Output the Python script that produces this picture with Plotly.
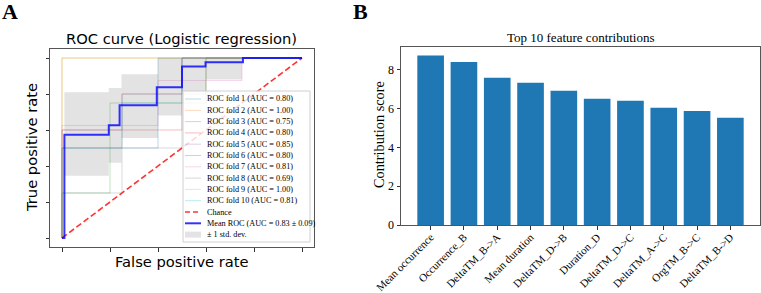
import plotly.graph_objects as go

W, H = 761, 293

# ---------------- Data: ROC panel ----------------
fold_labels = ["ROC fold %d (AUC = %s)" % (i + 1, a) for i, a in enumerate(
    ["0.80", "1.00", "0.75", "0.80", "0.85", "0.80", "0.81", "0.69", "1.00", "0.81"])]
fold_fpr = [
    [0, 0, 0.4, 0.4, 1],
    [0, 0, 1],
    [0, 0, 0.2, 0.2, 0.6, 0.6, 1],
    [0, 0, 0.5, 0.5, 1],
    [0, 0, 0.25, 0.25, 0.5, 0.5, 1],
    [0, 0, 0.25, 0.25, 0.6, 0.6, 1],
    [0, 0, 0.4, 0.4, 0.75, 0.75, 1],
    [0, 0, 0.25, 0.25, 0.5, 0.5, 1],
    [0, 0, 1],
    [0, 0, 0.25, 0.25, 0.5, 0.5, 1],
]
fold_tpr = [
    [0, 0.5, 0.5, 1, 1],
    [0, 1, 1],
    [0, 0.25, 0.25, 0.75, 0.75, 1, 1],
    [0, 0.6, 0.6, 1, 1],
    [0, 0.6, 0.6, 0.8, 0.8, 1, 1],
    [0, 0.5, 0.5, 0.8, 0.8, 1, 1],
    [0, 0.625, 0.625, 0.875, 0.875, 1, 1],
    [0, 0.25, 0.25, 0.5, 0.5, 1, 1],
    [0, 1, 1],
    [0, 0.5, 0.5, 0.75, 0.75, 1, 1],
]
fold_colors = ["31,119,180", "255,127,14", "44,160,44", "214,39,40", "148,103,189",
               "140,86,75", "227,119,194", "127,127,127", "188,189,34", "23,190,207"]

mean_fpr = [0, 0.01, 0.195, 0.24, 0.395, 0.50, 0.598, 0.754, 1.0]
mean_tpr = [0, 0.574, 0.626, 0.737, 0.837, 0.953, 0.976, 1.0, 1.0]

band_fpr = [0.01, 0.195, 0.248, 0.40, 0.50, 0.60, 0.75, 1.0]
band_upper = [0.81, 0.833, 0.91, 1.0, 1.0, 1.0, 1.0, 1.0]
band_lower = [0.346, 0.418, 0.556, 0.68, 0.81, 0.88, 1.0, 1.0]

chance_x = [0, 1]
chance_y = [0, 1]
roc_ticks = [0, 0.2, 0.4, 0.6, 0.8, 1.0]

# ---------------- Data: bar panel ----------------
features = ["Mean occurrence", "Occurrence_B", "DeltaTM_B->A", "Mean duration",
            "DeltaTM_D->B", "Duration_D", "DeltaTM_D->C", "DeltaTM_A->C",
            "OrgTM_B->C", "DeltaTM_B->D"]
scores = [8.74, 8.41, 7.59, 7.33, 6.92, 6.51, 6.41, 6.05, 5.88, 5.53]
score_ticks = [0, 2, 4, 6, 8]


def px(x):
    return x / W


def py(y):
    return 1 - y / H


fig = go.Figure()

# fold curves
for i in range(10):
    fig.add_trace(go.Scatter(x=fold_fpr[i], y=fold_tpr[i], mode="lines",
                             line=dict(color="rgba(%s,0.3)" % fold_colors[i], width=1),
                             xaxis="x", yaxis="y", showlegend=False, hoverinfo="skip"))

# std band
fig.add_trace(go.Scatter(x=band_fpr, y=band_lower, mode="lines", line=dict(width=0, shape="hv"),
                         xaxis="x", yaxis="y", showlegend=False, hoverinfo="skip"))
fig.add_trace(go.Scatter(x=band_fpr, y=band_upper, mode="lines", line=dict(width=0, shape="hv"),
                         fill="tonexty", fillcolor="rgba(128,128,128,0.22)",
                         xaxis="x", yaxis="y", showlegend=False, hoverinfo="skip"))

# chance
fig.add_trace(go.Scatter(x=chance_x, y=chance_y, mode="lines",
                         line=dict(color="rgba(255,0,0,0.8)", width=1.6, dash="6px,3px"),
                         xaxis="x", yaxis="y", showlegend=False, hoverinfo="skip"))
# mean
fig.add_trace(go.Scatter(x=mean_fpr, y=mean_tpr, mode="lines",
                         line=dict(color="rgba(0,0,255,0.8)", width=2, shape="hv"),
                         xaxis="x", yaxis="y", showlegend=False, hoverinfo="skip"))

# bars
fig.add_trace(go.Bar(x=list(range(len(features))), y=scores, width=0.8,
                     marker=dict(color="#1f77b4", line=dict(width=0)),
                     xaxis="x2", yaxis="y2", showlegend=False))

frame = "#555555"
fig.update_layout(
    width=W, height=H, margin=dict(l=0, r=0, t=0, b=0),
    paper_bgcolor="white", plot_bgcolor="white",
    xaxis=dict(domain=[px(50), px(314)], range=[-0.05, 1.05], showgrid=False, zeroline=False,
               tickvals=roc_ticks, showticklabels=False, ticks="outside", ticklen=3.5,
               tickcolor="#333", showline=True, linecolor=frame, linewidth=1, mirror=True,
               anchor="y", automargin=False),
    yaxis=dict(domain=[py(247), py(49)], range=[-0.05, 1.05], showgrid=False, zeroline=False,
               tickvals=roc_ticks, showticklabels=False, ticks="outside", ticklen=3.5,
               tickcolor="#333", showline=True, linecolor=frame, linewidth=1, mirror=True,
               anchor="x", automargin=False),
    xaxis2=dict(domain=[px(401), px(760)], range=[-0.89, 9.89], showgrid=False, zeroline=False,
                tickvals=list(range(len(features))), ticktext=features, tickangle=-45,
                tickfont=dict(family="Liberation Serif", size=11, color="black"),
                ticks="outside", ticklen=3.5, tickcolor="#333", ticklabelstandoff=-3,
                showline=True, linecolor=frame, linewidth=1, mirror=True,
                anchor="y2", automargin=False),
    yaxis2=dict(domain=[py(225), py(47)], range=[0, max(scores) * 1.05], showgrid=False,
                zeroline=False, tickvals=score_ticks,
                tickfont=dict(family="Liberation Serif", size=12, color="black"),
                ticks="outside", ticklen=3.5, tickcolor="#333",
                showline=True, linecolor=frame, linewidth=1, mirror=True,
                anchor="x2", automargin=False),
)

ann = []
shapes = []
sans = "DejaVu Sans"
serif = "Liberation Serif"
# panel letters
ann.append(dict(text="<b>A</b>", x=px(0), y=py(11), xref="paper", yref="paper", xanchor="left",
                yanchor="middle", showarrow=False, font=dict(family=serif, size=22, color="black")))
ann.append(dict(text="<b>B</b>", x=px(351), y=py(11), xref="paper", yref="paper", xanchor="left",
                yanchor="middle", showarrow=False, font=dict(family=serif, size=22, color="black")))
# titles
ann.append(dict(text="ROC curve (Logistic regression)", x=px(181), y=py(39), xref="paper",
                yref="paper", showarrow=False, xanchor="center", yanchor="middle",
                font=dict(family=sans, size=14.7, color="black")))
ann.append(dict(text="False positive rate", x=px(182), y=py(261), xref="paper", yref="paper",
                showarrow=False, xanchor="center", yanchor="middle",
                font=dict(family=sans, size=14.7, color="black")))
ann.append(dict(text="True positive rate", x=px(31), y=py(148), xref="paper", yref="paper",
                showarrow=False, xanchor="center", yanchor="middle", textangle=-90,
                font=dict(family=sans, size=14.7, color="black")))
ann.append(dict(text="Top 10 feature contributions", x=px(580), y=py(37.5), xref="paper",
                yref="paper", showarrow=False, xanchor="center", yanchor="middle",
                font=dict(family=serif, size=13, color="black")))
ann.append(dict(text="Contribution score", x=px(379), y=py(135), xref="paper", yref="paper",
                showarrow=False, xanchor="center", yanchor="middle", textangle=-90,
                font=dict(family=serif, size=14.3, color="black")))

# manual legend (ROC panel)
shapes.append(dict(type="rect", xref="paper", yref="paper", x0=px(183), x1=px(310),
                   y0=py(242), y1=py(91), fillcolor="rgba(255,255,255,0.8)",
                   line=dict(color="#d0d0d0", width=1), layer="above"))
leg_labels = fold_labels + ["Chance", "Mean ROC (AUC = 0.83 \u00b1 0.09)", "\u00b1 1 std. dev."]
for i, lab in enumerate(leg_labels):
    yy = 99 + 11.3 * i
    if i < 10:
        shapes.append(dict(type="line", xref="paper", yref="paper", x0=px(185), x1=px(201),
                           y0=py(yy), y1=py(yy), layer="above",
                           line=dict(color="rgba(%s,0.3)" % fold_colors[i], width=1)))
    elif i == 10:
        shapes.append(dict(type="line", xref="paper", yref="paper", x0=px(185), x1=px(201),
                           y0=py(yy), y1=py(yy), layer="above",
                           line=dict(color="rgba(255,0,0,0.8)", width=1.6, dash="5px,3px")))
    elif i == 11:
        shapes.append(dict(type="line", xref="paper", yref="paper", x0=px(185), x1=px(201),
                           y0=py(yy), y1=py(yy), layer="above",
                           line=dict(color="rgba(0,0,255,0.8)", width=2)))
    else:
        shapes.append(dict(type="rect", xref="paper", yref="paper", x0=px(185), x1=px(201),
                           y0=py(yy + 3), y1=py(yy - 3), layer="above",
                           fillcolor="rgba(128,128,128,0.22)", line=dict(width=0)))
    ann.append(dict(text=lab, x=px(205), y=py(yy), xref="paper", yref="paper", showarrow=False,
                    xanchor="left", yanchor="middle",
                    font=dict(family=serif, size=8.2, color="black")))

fig.update_layout(annotations=ann, shapes=shapes)
fig.write_html("out.html", config={"displayModeBar": False},
               post_script="document.body.style.margin='0';")
